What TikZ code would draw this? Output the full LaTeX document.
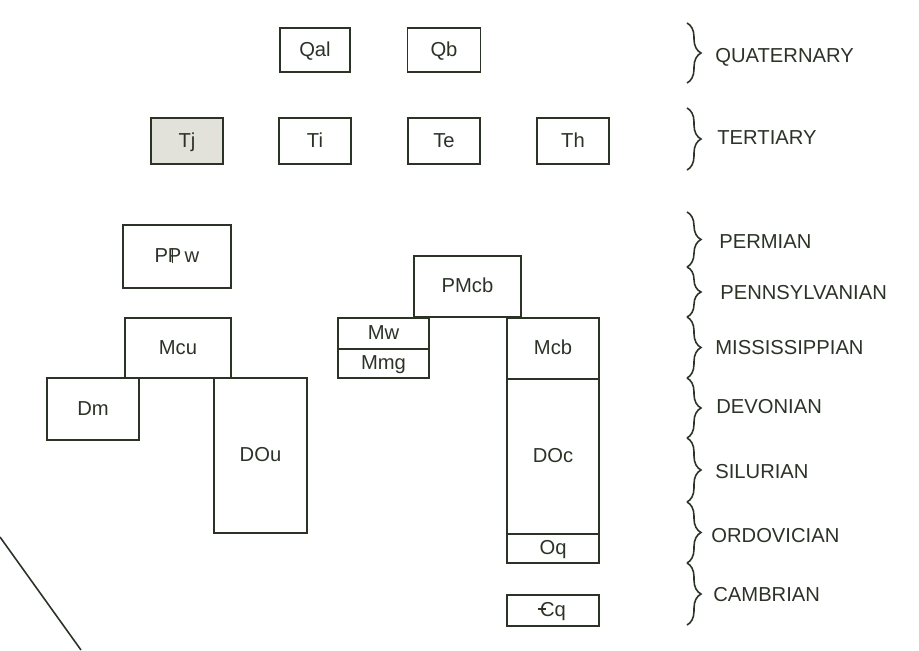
\documentclass[tikz,border=0pt]{standalone}
\usepackage{fontspec}
\setmainfont{Liberation Sans}
\usetikzlibrary{positioning, decorations.pathreplacing}
\definecolor{ink}{HTML}{2B3327}
\definecolor{shade}{HTML}{E2E2DA}
\tikzstyle{unit} = [draw=ink, rectangle, line width=0.9pt, inner sep=0pt, outer sep=0pt,
   text=ink, font=\fontsize{11.5}{13}\selectfont, text height=1.6ex, text depth=0.3ex]
\tikzstyle{eraBrace} = [draw=ink, line width=0.9pt, decorate,
   decoration={brace, amplitude=0.28cm}]
\tikzstyle{era} = [anchor=west, inner sep=0pt, text=ink, font=\fontsize{11.5}{13}\selectfont]
\tikzset{dims/.style 2 args={minimum width=#1*0.02cm, minimum height=#2*0.02cm}}
\newcommand{\pennsym}{P\kern-0.02em\makebox[0pt][l]{\kern0.2em\rule{0.08em}{0.72em}}P}
\newcommand{\cambsym}{\makebox[0pt][l]{\kern-0.12em\rule[0.33em]{0.42em}{0.08em}}C}

\begin{document}
\begin{tikzpicture}[x=0.02cm, y=-0.02cm]
  \useasboundingbox (0,0) rectangle (919,650);

  % tertiary row, quaternary above it
  \node[unit, fill=shade, dims={72}{46}] (tj) at (187,141) {Tj};
  \node[unit, dims={72}{46}, right=1.12cm of tj] (ti) {Ti};
  \node[unit, dims={72}{46}, right=1.14cm of ti] (te) {Te};
  \node[unit, dims={72}{46}, right=1.14cm of te] (th) {Th};
  \node[unit, dims={70}{44}, above=0.92cm of ti] (qal) {Qal};
  \node[unit, dims={73}{44}, above=0.92cm of te] (qb) {Qb};

  % left column
  \node[unit, dims={108}{63}] (ppw) at (177,256.5) {\pennsym\,w};
  \node[unit, dims={106}{60}] (mcu) at (178,348) {Mcu};
  \node[unit, dims={92}{62}] (dm) at (93,409) {Dm};
  \node[unit, dims={93}{155}] (dou) at (260.5,455.5) {DOu};

  % right column
  \node[unit, dims={107}{61}] (pmcb) at (467.5,286.5) {PMcb};
  \node[unit, dims={91}{31}] (mw) at (383.5,333.5) {Mw};
  \node[unit, dims={91}{29}, below=0pt of mw] (mmg) {Mmg};
  \node[unit, dims={92}{61}] (mcb) at (553,348.5) {Mcb};
  \node[unit, dims={92}{155}, below=0pt of mcb] (doc) {DOc};
  \node[unit, dims={92}{29}, below=0pt of doc] (oq) {Oq};
  \node[unit, dims={92}{31}] (cq) at (553,610.5) {\cambsym q};

  % braces and period names
  \foreach \name/\top/\bot/\lx/\ly/\txt in {
      quat/23/83/715/57/QUATERNARY, tert/108/170/717/138/TERTIARY,
      perm/212/267/719/242/PERMIAN, penn/267/317/720/293/PENNSYLVANIAN,
      miss/317/378/715/348/MISSISSIPPIAN, dev/378/438/716/407/DEVONIAN,
      sil/438/502/715/472/SILURIAN, ord/502/563/711/536/ORDOVICIAN,
      camb/563/625/713/595/CAMBRIAN} {
    \coordinate (\name-a) at (687,\top);
    \coordinate (\name-b) at (687,\bot);
    \draw[eraBrace] (\name-a) -- (\name-b);
    \node[era] (\name) at (\lx,\ly) {\txt};
  }

  % stray rule at the lower left
  \draw[ink, line width=0.9pt] (0,537) -- (81,650);
\end{tikzpicture}
\end{document}
